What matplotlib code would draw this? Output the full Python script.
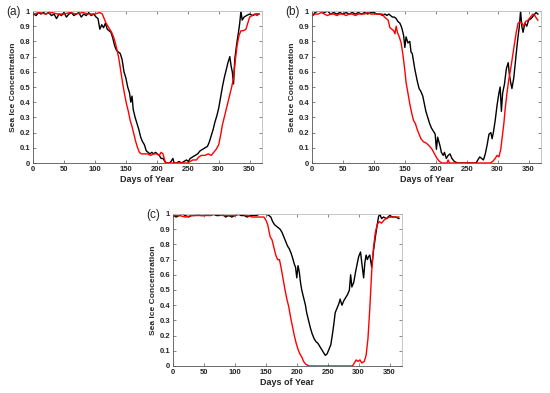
import matplotlib
matplotlib.use("Agg")
import matplotlib.pyplot as plt

plt.rcParams['font.family'] = ['Liberation Sans', 'DejaVu Sans']

# (day, sea ice concentration)
a_black = [(1, 0.98), (5, 0.97), (9, 0.99), (13, 0.98), (17, 0.99), (21, 0.98), (25, 0.99),
           (30, 0.97), (34, 0.98), (38, 0.95), (42, 0.98), (46, 0.97), (50, 0.99), (54, 0.96),
           (58, 0.98), (62, 0.99), (66, 0.97), (70, 0.98), (74, 0.99), (78, 0.96), (82, 0.98),
           (86, 0.97), (90, 0.99), (94, 0.97), (98, 0.98), (102, 0.96), (105, 0.95), (108, 0.88),
           (111, 0.91), (114, 0.89), (117, 0.92), (120, 0.88), (123, 0.87), (126, 0.86),
           (129, 0.82), (132, 0.77), (135, 0.74), (138, 0.73), (141, 0.72), (144, 0.68),
           (147, 0.60), (150, 0.56), (153, 0.50), (156, 0.46), (158, 0.40), (160, 0.44),
           (162, 0.35), (165, 0.30), (168, 0.26), (171, 0.22), (174, 0.17), (177, 0.14),
           (180, 0.12), (183, 0.08), (186, 0.07), (189, 0.06), (192, 0.07), (195, 0.06),
           (198, 0.07), (201, 0.06), (204, 0.05), (207, 0.03), (210, 0.03), (213, 0.01),
           (216, 0.0), (220, 0.0), (223, 0.01), (226, 0.03), (228, 0.0), (232, 0.0),
           (236, 0.01), (240, 0.0), (244, 0.01), (248, 0.02), (251, 0.01), (254, 0.03),
           (258, 0.04), (262, 0.05), (266, 0.06), (270, 0.08), (274, 0.09), (278, 0.10),
           (282, 0.11), (285, 0.14), (288, 0.18), (291, 0.22), (294, 0.27), (297, 0.31),
           (300, 0.36), (303, 0.43), (306, 0.50), (309, 0.56), (312, 0.61), (315, 0.66),
           (318, 0.70), (320, 0.64), (322, 0.60), (324, 0.52), (326, 0.68), (329, 0.78),
           (332, 0.86), (334, 0.92), (336, 1.0), (338, 0.94), (341, 0.96), (345, 0.97),
           (350, 0.98), (355, 0.97), (360, 0.98), (365, 0.98)]

a_red = [(1, 0.98), (10, 0.99), (20, 0.98), (30, 0.99), (40, 0.98), (50, 0.98), (60, 0.99),
         (70, 0.98), (80, 0.99), (90, 0.98), (100, 0.98), (108, 0.99), (112, 0.98),
         (115, 0.95), (118, 0.92), (121, 0.90), (124, 0.88), (127, 0.86), (130, 0.83),
         (133, 0.79), (136, 0.74), (139, 0.68), (142, 0.60), (145, 0.52), (148, 0.45),
         (151, 0.39), (154, 0.34), (157, 0.28), (160, 0.24), (163, 0.19), (166, 0.14),
         (169, 0.10), (172, 0.07), (175, 0.06), (180, 0.06), (185, 0.06), (190, 0.05),
         (195, 0.06), (200, 0.06), (204, 0.05), (207, 0.07), (210, 0.06), (212, 0.03),
         (214, 0.0), (250, 0.0), (254, 0.01), (258, 0.02), (264, 0.02), (268, 0.04),
         (272, 0.05), (278, 0.05), (283, 0.06), (288, 0.05), (292, 0.07), (296, 0.09),
         (300, 0.12), (303, 0.18), (306, 0.25), (309, 0.30), (312, 0.35), (315, 0.40),
         (318, 0.45), (321, 0.50), (324, 0.56), (327, 0.68), (330, 0.78), (333, 0.84),
         (336, 0.87), (340, 0.87), (344, 0.88), (347, 0.92), (350, 0.96), (354, 0.97),
         (358, 0.98), (362, 0.97), (365, 0.98)]

b_black = [(1, 0.97), (5, 0.99), (10, 1.0), (15, 1.0), (20, 0.99), (25, 1.0), (30, 0.98),
           (35, 0.99), (40, 0.98), (45, 0.99), (50, 0.98), (55, 0.99), (60, 0.98), (65, 0.99),
           (70, 0.98), (75, 0.99), (80, 0.98), (85, 0.99), (90, 0.98), (95, 0.99), (100, 0.99),
           (105, 0.98), (110, 0.98), (114, 0.97), (118, 0.98), (121, 0.97), (124, 0.98),
           (127, 0.97), (130, 0.96), (133, 0.96), (136, 0.95), (139, 0.93), (142, 0.92),
           (145, 0.89), (148, 0.84), (150, 0.76), (152, 0.83), (155, 0.79), (158, 0.80),
           (160, 0.73), (162, 0.72), (164, 0.67), (166, 0.62), (168, 0.58), (170, 0.54),
           (173, 0.49), (176, 0.47), (179, 0.44), (181, 0.40), (184, 0.34), (187, 0.30),
           (190, 0.26), (193, 0.23), (196, 0.21), (199, 0.19), (201, 0.09), (203, 0.17),
           (205, 0.14), (207, 0.11), (209, 0.07), (212, 0.05), (214, 0.07), (217, 0.03),
           (220, 0.05), (223, 0.06), (226, 0.03), (230, 0.01), (235, 0.0), (265, 0.0),
           (268, 0.02), (271, 0.04), (274, 0.03), (277, 0.02), (280, 0.06), (283, 0.12),
           (286, 0.19), (289, 0.20), (291, 0.16), (293, 0.20), (296, 0.28), (299, 0.38),
           (302, 0.46), (304, 0.50), (306, 0.34), (308, 0.46), (311, 0.52), (314, 0.62),
           (317, 0.66), (319, 0.58), (321, 0.53), (323, 0.49), (326, 0.56), (329, 0.68),
           (332, 0.80), (335, 0.90), (337, 1.0), (339, 0.90), (341, 0.86), (344, 0.92),
           (347, 0.90), (350, 0.94), (354, 0.95), (358, 0.97), (362, 0.99), (365, 0.98)]

b_red = [(1, 0.97), (5, 0.98), (10, 0.98), (15, 0.99), (20, 0.98), (25, 0.97), (30, 0.98),
         (35, 0.98), (40, 0.97), (45, 0.98), (50, 0.98), (55, 0.97), (60, 0.98), (65, 0.98),
         (70, 0.97), (75, 0.98), (80, 0.98), (85, 0.98), (90, 0.99), (95, 0.98), (100, 0.98),
         (105, 0.98), (110, 0.98), (114, 0.98), (117, 0.96), (120, 0.95), (123, 0.94),
         (126, 0.89), (129, 0.88), (132, 0.87), (134, 0.85), (136, 0.90), (138, 0.86),
         (141, 0.83), (144, 0.79), (147, 0.71), (150, 0.61), (152, 0.53), (155, 0.46),
         (158, 0.39), (161, 0.33), (164, 0.28), (167, 0.26), (170, 0.22), (173, 0.19),
         (176, 0.16), (180, 0.14), (185, 0.13), (190, 0.11), (194, 0.09), (198, 0.06),
         (202, 0.03), (206, 0.01), (210, 0.0), (218, 0.0), (220, 0.02), (222, 0.0),
         (288, 0.0), (292, 0.01), (296, 0.03), (299, 0.05), (302, 0.04), (305, 0.09),
         (307, 0.16), (310, 0.26), (312, 0.35), (315, 0.46), (318, 0.55), (321, 0.62),
         (324, 0.70), (327, 0.78), (330, 0.86), (333, 0.92), (336, 0.93), (339, 0.92),
         (342, 0.90), (345, 0.93), (349, 0.94), (353, 0.96), (357, 0.98), (360, 0.97),
         (363, 0.95), (365, 0.94)]

c_black = [(1, 0.99), (5, 0.98), (10, 0.99), (15, 1.0), (20, 0.99), (25, 0.98), (30, 0.99),
           (35, 0.99), (40, 1.0), (45, 0.99), (50, 0.99), (55, 1.0), (60, 0.99), (65, 1.0),
           (70, 0.99), (75, 0.99), (80, 1.0), (85, 0.98), (90, 0.99), (95, 0.98), (100, 0.99),
           (105, 1.0), (110, 0.99), (115, 0.99), (120, 0.98), (125, 0.99), (130, 0.99),
           (135, 0.99), (140, 1.0), (145, 1.0), (150, 1.0), (155, 0.99), (158, 0.98),
           (161, 0.95), (164, 0.93), (167, 0.92), (170, 0.91), (173, 0.90), (176, 0.88),
           (179, 0.85), (182, 0.82), (185, 0.79), (188, 0.77), (191, 0.74), (194, 0.70),
           (196, 0.67), (198, 0.65), (200, 0.58), (202, 0.66), (204, 0.62), (206, 0.55),
           (208, 0.50), (211, 0.45), (214, 0.40), (216, 0.35), (219, 0.30), (222, 0.25),
           (225, 0.21), (228, 0.18), (231, 0.16), (234, 0.15), (237, 0.13), (240, 0.11),
           (243, 0.09), (246, 0.07), (249, 0.08), (252, 0.11), (255, 0.14), (258, 0.22),
           (260, 0.28), (262, 0.35), (265, 0.38), (268, 0.41), (270, 0.44), (273, 0.40),
           (276, 0.43), (279, 0.45), (282, 0.47), (285, 0.50), (287, 0.60), (289, 0.52),
           (292, 0.55), (295, 0.62), (298, 0.68), (300, 0.72), (303, 0.75), (305, 0.68),
           (308, 0.58), (310, 0.68), (312, 0.73), (314, 0.70), (316, 0.72), (318, 0.73),
           (321, 0.65), (324, 0.76), (327, 0.85), (330, 0.93), (332, 0.98), (334, 1.0),
           (337, 0.97), (340, 0.98), (345, 0.97), (350, 0.99), (355, 0.98), (360, 0.98),
           (365, 0.97)]

c_red = [(1, 0.99), (10, 0.99), (20, 0.98), (30, 0.99), (40, 0.99), (50, 0.99), (60, 0.99),
         (70, 1.0), (80, 0.99), (90, 0.99), (100, 0.99), (110, 1.0), (120, 0.99),
         (128, 0.98), (135, 0.98), (142, 0.98), (147, 0.98), (150, 0.96), (153, 0.93),
         (155, 0.89), (157, 0.85), (160, 0.83), (163, 0.78), (166, 0.73), (169, 0.70),
         (172, 0.70), (175, 0.64), (178, 0.57), (181, 0.50), (184, 0.44), (187, 0.39),
         (190, 0.32), (193, 0.26), (196, 0.20), (199, 0.15), (202, 0.11), (205, 0.08),
         (208, 0.06), (211, 0.03), (215, 0.01), (220, 0.0), (290, 0.0), (293, 0.02),
         (296, 0.04), (299, 0.03), (302, 0.04), (305, 0.02), (309, 0.03), (312, 0.07),
         (315, 0.18), (318, 0.38), (321, 0.62), (324, 0.78), (327, 0.88), (330, 0.93),
         (333, 0.95), (337, 0.94), (341, 0.96), (345, 0.97), (350, 0.98), (355, 0.98),
         (360, 0.98), (365, 0.98)]

panels = [("(a)", a_black, a_red), ("(b)", b_black, b_red), ("(c)", c_black, c_red)]

W, H = 550, 393
# axes boxes in pixels: left, top, right, bottom
boxes = [(33, 11, 262, 163), (312, 11, 541, 163), (173, 214, 402, 366)]

fig = plt.figure(figsize=(W / 100, H / 100), dpi=100)

for (label, blk, red), (l, t, r, b) in zip(panels, boxes):
    ax = fig.add_axes([l / W, 1 - b / H, (r - l) / W, (b - t) / H])
    ax.plot([p[0] for p in blk], [p[1] for p in blk], color='black', lw=1.0)
    ax.plot([p[0] for p in red], [p[1] for p in red], color='#ff0000', lw=1.0)
    ax.set_xlim(0, 370)
    ax.set_ylim(0, 1)
    ax.set_xticks([0, 50, 100, 150, 200, 250, 300, 350])
    ax.set_yticks([0, 0.1, 0.2, 0.3, 0.4, 0.5, 0.6, 0.7, 0.8, 0.9, 1])
    ax.set_yticklabels(['0', '0.1', '0.2', '0.3', '0.4', '0.5', '0.6', '0.7', '0.8', '0.9', '1'])
    ax.tick_params(direction='in', length=2, width=0.5, colors='#555555', labelcolor='#262626',
                   labelsize=5.5, top=True, right=True, pad=2)
    for lab in ax.get_xticklabels() + ax.get_yticklabels():
        lab.set_fontweight('bold')
    for s in ax.spines.values():
        s.set_color('#bbbbbb')
        s.set_linewidth(0.6)
    ax.spines['left'].set_color('#555555')
    ax.spines['bottom'].set_color('#555555')
    ax.set_xlabel('Days of Year', fontsize=6.5, fontweight='bold', color='#262626', labelpad=1.5)
    ax.set_ylabel('Sea Ice Concentration', fontsize=6, fontweight='bold', color='#262626',
                  labelpad=2)
    fig.text((l - 27) / W, 1 - (t + 1) / H, label, fontsize=8.5, va='center', ha='left',
             color='#262626')

fig.savefig('out.png', dpi=100)
